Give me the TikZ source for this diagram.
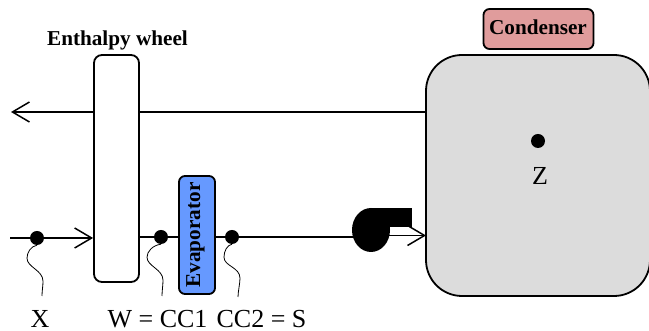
\documentclass[tikz,border=0pt]{standalone}
\usepackage{fontspec}
\setmainfont{Liberation Serif}
\usetikzlibrary{positioning,arrows.meta,shapes.geometric}
\definecolor{evapblue}{HTML}{6699FF}
\definecolor{condred}{HTML}{E09C9C}
\definecolor{roomgray}{HTML}{DCDCDC}
\begin{document}
\begin{tikzpicture}[x=1pt,y=1pt, every node/.style={inner sep=0pt,align=center},
  duct/.style={line width=1.7pt}, flow/.style={duct,-{Straight Barb[length=17pt,width=20pt,line width=1.5pt]}},
  unit/.style={draw,line width=1.8pt,fill=white,rounded corners=8pt,minimum width=45pt,minimum height=227pt},
  pt/.style={circle,fill=black,minimum size=14pt},
  leader/.style={line width=.8pt},
  lbl/.style={font=\fontsize{26}{28}\selectfont,anchor=base},
  blbl/.style={font=\fontsize{21.2}{23}\selectfont\bfseries}]
\useasboundingbox (0,0) rectangle (649,331);
\node[unit] (wheel) at (116.5,162.5) {};
\node[unit,fill=evapblue,rounded corners=6pt,minimum width=36pt,minimum height=118pt] (evap) at (197,96) {};
\node[blbl,rotate=90,anchor=base] (evaplbl) at (200,96) {Evaporator};
\node[unit,fill=roomgray,rounded corners=36pt,minimum width=224pt,minimum height=241pt] (cond) at (538,155.5) {};
\node[unit,fill=condred,rounded corners=6pt,minimum width=110pt,minimum height=40pt] (condbox) at (538.5,302) {};
\node[blbl,anchor=base] (condlbl) at (538,296) {Condenser};
\node[blbl,anchor=base] (wheellbl) at (117.5,285) {Enthalpy wheel};
\node[pt] (ptx) at (37,93) {};
\node[pt] (ptw) at (161,94) {};
\node[pt] (pts) at (232,94) {};
\node[pt] (ptz) at (538,190) {};
\node[lbl] (lblz) at (540,146) {Z};
\node[lbl] (lblx) at (40,3.5) {X};
\node[lbl] (lblw) at (157.5,3.5) {W = CC1};
\node[lbl] (lbls) at (261.5,3.5) {CC2 = S};
\coordinate (outl) at (11,219); \coordinate (inl) at (10,93); \coordinate (tip) at (426,95.5);
\coordinate (endx) at (42,35); \coordinate (endw) at (162,35); \coordinate (ends) at (238,34);
\draw[duct] (cond.west |- outl)--(wheel.east |- outl); \draw[flow] (wheel.west |- outl)--(outl);
\draw[flow] (inl)--(wheel.west |- inl);
\draw[duct] (wheel.east |- ptw)--(ptw)--(evap.west |- ptw); \draw[duct] (evap.east |- pts)--(pts)--(371,94);
\node[ellipse,fill=black,minimum width=38pt,minimum height=44pt] (pump) at (371,101) {};
\node[fill=black,anchor=north west,minimum width=41pt,minimum height=19pt] (pumpout) at (pump.north) {};
\draw[flow] (pump.center |- tip)--(tip);
\draw[leader] (ptx.south) .. controls +(-6,-1) and +(0,6) .. ++(-10,-13) .. controls +(0,-9) and +(0,11) .. ++(16,-23) .. controls +(0,-5) and +(0,5) .. (endx);
\draw[leader] (ptw.south) .. controls +(-8,-1) and +(0,6) .. ++(-14,-13) .. controls +(0,-9) and +(0,11) .. ++(16,-23) .. controls +(0,-5) and +(0,5) .. (endw);
\draw[leader] (pts.south) .. controls +(-5,-1) and +(0,6) .. ++(-8,-13) .. controls +(0,-9) and +(0,11) .. ++(16,-21) .. controls +(0,-5) and +(0,5) .. (ends);
\end{tikzpicture}
\end{document}
